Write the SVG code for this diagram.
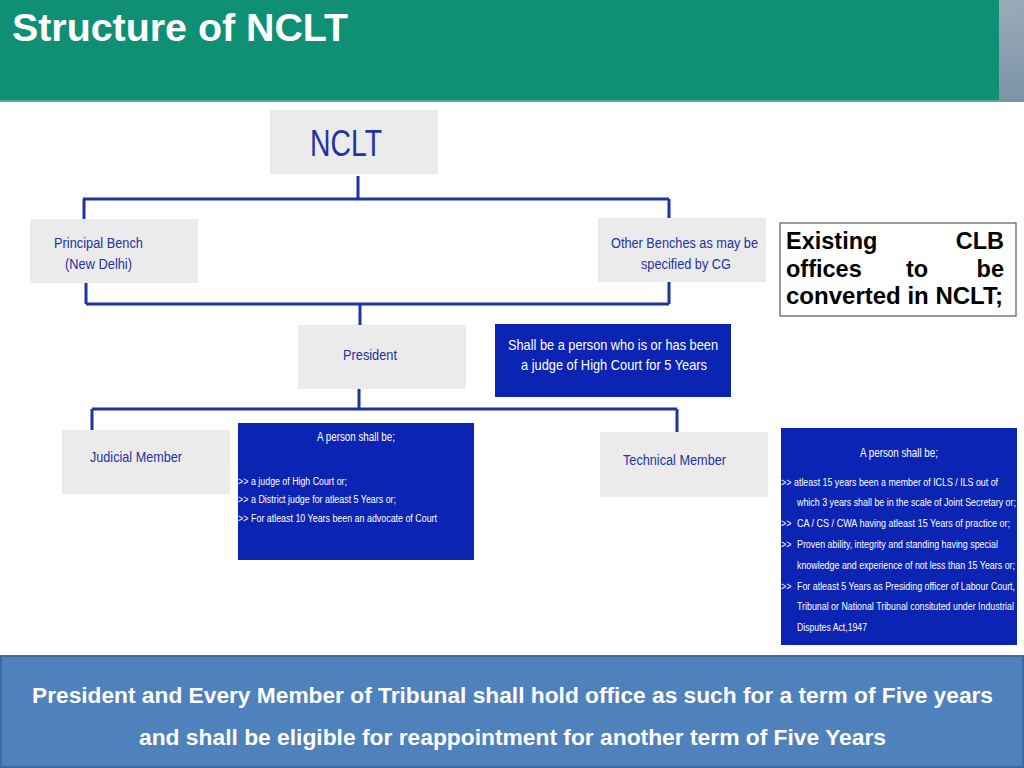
<svg xmlns="http://www.w3.org/2000/svg" width="1024" height="768" viewBox="0 0 1024 768">
<defs>
<linearGradient id="strip" x1="0" y1="0" x2="0" y2="1">
<stop offset="0" stop-color="#9aabb9"/>
<stop offset="1" stop-color="#7b93a7"/>
</linearGradient>
<style>
text{font-family:"Liberation Sans",Arial,Helvetica,sans-serif}
.gbox{fill:#ebebeb}
.bbox{fill:#0b24b3}
.gt{fill:#2332a6;font-size:15.5px}
.wt{fill:#ffffff}
.sm{font-size:10.8px}
.hd{font-size:12px}
.conn{fill:none;stroke:#1f33a1;stroke-width:3}
.clb{font-size:23.5px;font-weight:bold;fill:#000}
.ban{fill:#fff;font-size:22.5px;font-weight:bold}
</style>
</defs>
<rect x="0" y="0" width="1024" height="768" fill="#ffffff"/>
<g id="header">
<rect x="0" y="0" width="1000" height="102" fill="#0f8f73"/>
<rect x="0" y="100" width="1000" height="2" fill="#5aa994"/>
<rect x="999" y="0" width="25" height="102" fill="url(#strip)"/>
<text x="12" y="41" fill="#ffffff" font-size="38" font-weight="bold" textLength="336" lengthAdjust="spacingAndGlyphs">Structure of NCLT</text>
</g>
<g id="connectors">
<path class="conn" d="M358 176 V199 M83 199 H669 M84 199 V219 M669 199 V219"/>
<path class="conn" d="M86 283 V304 M86 304 H669 M669 282 V304 M360 304 V325"/>
<path class="conn" d="M359 389 V409 M92 409 H677 M92 409 V430 M677 409 V432"/>
</g>
<g id="nclt">
<rect class="gbox" x="270" y="110" width="168" height="64"/>
<text x="346" y="156" text-anchor="middle" fill="#2332a6" font-size="36" textLength="72" lengthAdjust="spacingAndGlyphs">NCLT</text>
</g>
<g id="principal-bench">
<rect class="gbox" x="30" y="219" width="168" height="64"/>
<text class="gt" x="98.5" y="248" text-anchor="middle" textLength="89" lengthAdjust="spacingAndGlyphs">Principal Bench</text>
<text class="gt" x="98.5" y="269" text-anchor="middle" textLength="67" lengthAdjust="spacingAndGlyphs">(New Delhi)</text>
</g>
<g id="other-benches">
<rect class="gbox" x="598" y="218" width="168" height="64"/>
<text class="gt" x="684.5" y="248" text-anchor="middle" textLength="147" lengthAdjust="spacingAndGlyphs">Other Benches as may be</text>
<text class="gt" x="686" y="269" text-anchor="middle" textLength="90" lengthAdjust="spacingAndGlyphs">specified by CG</text>
</g>
<g id="clb-note">
<rect x="780" y="223" width="236" height="93" fill="#ffffff" stroke="#555a60" stroke-width="1.2"/>
<text class="clb" x="786" y="249">Existing</text>
<text class="clb" x="1004" y="249" text-anchor="end">CLB</text>
<text class="clb" x="786" y="277">offices</text>
<text class="clb" x="917" y="277" text-anchor="middle">to</text>
<text class="clb" x="1004" y="277" text-anchor="end">be</text>
<text class="clb" x="786" y="304" textLength="217" lengthAdjust="spacingAndGlyphs">converted in NCLT;</text>
</g>
<g id="president">
<rect class="gbox" x="298" y="325" width="168" height="64"/>
<text class="gt" x="370" y="360" text-anchor="middle" textLength="54" lengthAdjust="spacingAndGlyphs">President</text>
</g>
<g id="president-qualification">
<rect class="bbox" x="495" y="324" width="236" height="73"/>
<text class="wt" x="613" y="350" font-size="15" text-anchor="middle" textLength="210" lengthAdjust="spacingAndGlyphs">Shall be a person who is or has been</text>
<text class="wt" x="614" y="370" font-size="15" text-anchor="middle" textLength="186" lengthAdjust="spacingAndGlyphs">a judge of High Court for 5 Years</text>
</g>
<g id="judicial-member">
<rect class="gbox" x="62" y="430" width="168" height="64"/>
<text class="gt" x="90" y="462" textLength="92" lengthAdjust="spacingAndGlyphs">Judicial Member</text>
</g>
<g id="judicial-qualification">
<rect class="bbox" x="238" y="423" width="236" height="137"/>
<g transform="translate(238 0) scale(0.82 1)">
<text class="wt hd" x="143.9" y="441" text-anchor="middle" textLength="95" lengthAdjust="spacingAndGlyphs">A person shall be;</text>
<text class="wt sm" x="0" y="485">&gt;&gt;</text>
<text class="wt sm" x="15.9" y="485" textLength="117" lengthAdjust="spacingAndGlyphs">a judge of High Court or;</text>
<text class="wt sm" x="0" y="503.5">&gt;&gt;</text>
<text class="wt sm" x="15.9" y="503.5" textLength="176.8" lengthAdjust="spacingAndGlyphs">a District judge for atleast 5 Years or;</text>
<text class="wt sm" x="0" y="522.5">&gt;&gt;</text>
<text class="wt sm" x="15.9" y="522.5" textLength="226.8" lengthAdjust="spacingAndGlyphs">For atleast 10 Years been an advocate of Court</text>
</g>
</g>
<g id="technical-member">
<rect class="gbox" x="600" y="432" width="168" height="65"/>
<text class="gt" x="623" y="465" textLength="103" lengthAdjust="spacingAndGlyphs">Technical Member</text>
</g>
<g id="technical-qualification">
<rect class="bbox" x="781" y="428" width="236" height="217"/>
<g transform="translate(781 0) scale(0.82 1)">
<text class="wt hd" x="143.9" y="457" text-anchor="middle" textLength="95" lengthAdjust="spacingAndGlyphs">A person shall be;</text>
<text class="wt sm" x="0" y="486.5">&gt;&gt;</text>
<text class="wt sm" x="15.9" y="486.5" textLength="248.8" lengthAdjust="spacingAndGlyphs">atleast 15 years been a member of ICLS / ILS out of</text>
<text class="wt sm" x="19.5" y="506.5" textLength="267" lengthAdjust="spacingAndGlyphs">which 3 years shall be in the scale of Joint Secretary or;</text>
<text class="wt sm" x="0" y="527.5">&gt;&gt;</text>
<text class="wt sm" x="19.5" y="527.5" textLength="259.8" lengthAdjust="spacingAndGlyphs">CA / CS / CWA having atleast 15 Years of practice or;</text>
<text class="wt sm" x="0" y="548.5">&gt;&gt;</text>
<text class="wt sm" x="19.5" y="548.5" textLength="245" lengthAdjust="spacingAndGlyphs">Proven ability, integrity and standing having special</text>
<text class="wt sm" x="19.5" y="569.5" textLength="265.9" lengthAdjust="spacingAndGlyphs">knowledge and experience of not less than 15 Years or;</text>
<text class="wt sm" x="0" y="590.5">&gt;&gt;</text>
<text class="wt sm" x="19.5" y="590.5" textLength="265.9" lengthAdjust="spacingAndGlyphs">For atleast 5 Years as Presiding officer of Labour Court,</text>
<text class="wt sm" x="19.5" y="610.5" textLength="264.6" lengthAdjust="spacingAndGlyphs">Tribunal or National Tribunal consituted under Industrial</text>
<text class="wt sm" x="19.5" y="631.5" textLength="85.4" lengthAdjust="spacingAndGlyphs">Disputes Act,1947</text>
</g>
</g>
<g id="term-banner">
<rect x="1" y="656" width="1022" height="111" fill="#4f81bd" stroke="#3e6a9c" stroke-width="2"/>
<text class="ban" x="512.5" y="703" text-anchor="middle" textLength="961" lengthAdjust="spacingAndGlyphs">President and Every Member of Tribunal shall hold office as such for a term of Five years</text>
<text class="ban" x="512.5" y="745" text-anchor="middle" textLength="747" lengthAdjust="spacingAndGlyphs">and shall be eligible for reappointment for another term of Five Years</text>
</g>
</svg>
